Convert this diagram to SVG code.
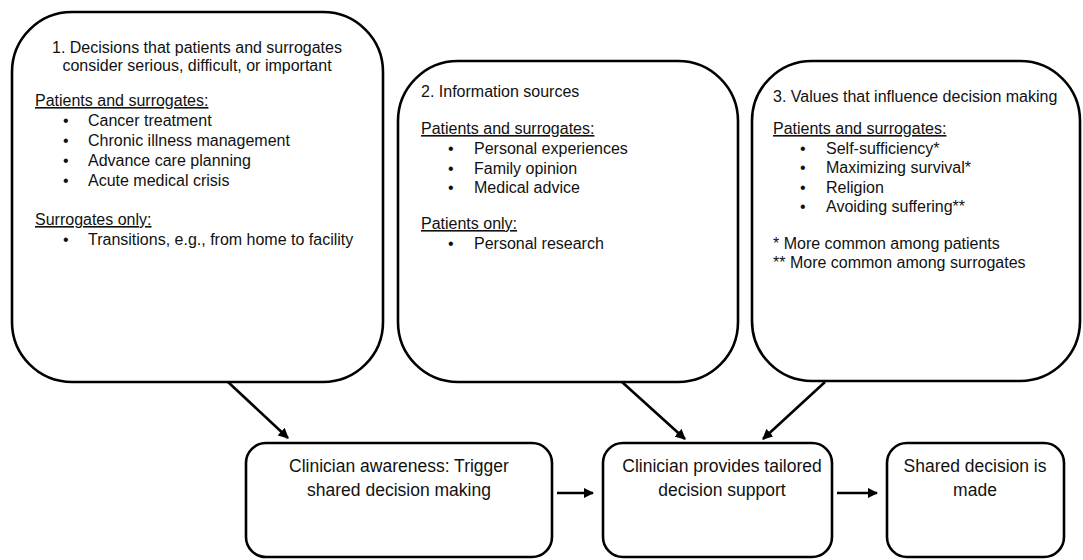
<svg xmlns="http://www.w3.org/2000/svg" width="1083" height="560" viewBox="0 0 1083 560">
<defs>
<marker id="ah" viewBox="0 0 10 10" refX="9" refY="5" markerWidth="4" markerHeight="4" orient="auto" markerUnits="strokeWidth">
<path d="M0,0 L10,5 L0,10 Z" fill="#000"/>
</marker>
<style>
.box{fill:#fff;stroke:#000;stroke-width:2.6}
.t{font-family:"Liberation Sans",Arial,sans-serif;font-size:16px;fill:#111}
.b{font-family:"Liberation Sans",Arial,sans-serif;font-size:17.5px;fill:#111;text-anchor:middle}
.u{text-decoration:underline}
.c{text-anchor:middle}
.con{stroke:#000;stroke-width:2.6;fill:none;marker-end:url(#ah)}
</style>
</defs>
<rect width="1083" height="560" fill="#fff"/>
<g id="node1">
<rect class="box" x="12" y="12" width="371" height="370" rx="60" ry="60"/>
<text class="t c" x="197" y="53">1. Decisions that patients and surrogates</text>
<text class="t c" x="197" y="71">consider serious, difficult, or important</text>
<text class="t u" x="35" y="106">Patients and surrogates:</text>
<text class="t" x="63" y="126">•</text><text class="t" x="88" y="126">Cancer treatment</text>
<text class="t" x="63" y="146">•</text><text class="t" x="88" y="146">Chronic illness management</text>
<text class="t" x="63" y="166">•</text><text class="t" x="88" y="166">Advance care planning</text>
<text class="t" x="63" y="186">•</text><text class="t" x="88" y="186">Acute medical crisis</text>
<text class="t u" x="35" y="225">Surrogates only:</text>
<text class="t" x="63" y="245">•</text><text class="t" x="88" y="245">Transitions, e.g., from home to facility</text>
</g>
<g id="node2">
<rect class="box" x="398" y="61" width="340" height="321" rx="60" ry="60"/>
<text class="t" x="421" y="97">2. Information sources</text>
<text class="t u" x="421" y="134">Patients and surrogates:</text>
<text class="t" x="448" y="154">•</text><text class="t" x="474" y="154">Personal experiences</text>
<text class="t" x="448" y="174">•</text><text class="t" x="474" y="174">Family opinion</text>
<text class="t" x="448" y="193">•</text><text class="t" x="474" y="193">Medical advice</text>
<text class="t u" x="421" y="229">Patients only:</text>
<text class="t" x="448" y="249">•</text><text class="t" x="474" y="249">Personal research</text>
</g>
<g id="node3">
<rect class="box" x="752" y="61" width="328" height="320" rx="60" ry="60"/>
<text class="t" x="773" y="102">3. Values that influence decision making</text>
<text class="t u" x="773" y="134">Patients and surrogates:</text>
<text class="t" x="800" y="154">•</text><text class="t" x="826" y="154">Self-sufficiency*</text>
<text class="t" x="800" y="173">•</text><text class="t" x="826" y="173">Maximizing survival*</text>
<text class="t" x="800" y="193">•</text><text class="t" x="826" y="193">Religion</text>
<text class="t" x="800" y="212">•</text><text class="t" x="826" y="212">Avoiding suffering**</text>
<text class="t" x="773" y="249">* More common among patients</text>
<text class="t" x="773" y="268">** More common among surrogates</text>
</g>
<g id="nodeA">
<rect class="box" x="246" y="443" width="306" height="114" rx="20" ry="20"/>
<text class="b" x="399" y="472">Clinician awareness: Trigger</text>
<text class="b" x="399" y="496">shared decision making</text>
</g>
<g id="nodeB">
<rect class="box" x="603" y="443" width="229" height="114" rx="20" ry="20"/>
<text class="b" x="722" y="472">Clinician provides tailored</text>
<text class="b" x="722" y="496">decision support</text>
</g>
<g id="nodeC">
<rect class="box" x="887" y="443" width="177" height="114" rx="20" ry="20"/>
<text class="b" x="975" y="472">Shared decision is</text>
<text class="b" x="975" y="496">made</text>
</g>
<g id="connectors">
<line class="con" x1="228" y1="382" x2="288" y2="438"/>
<line class="con" x1="622" y1="382" x2="685" y2="439"/>
<line class="con" x1="825" y1="382" x2="763" y2="439"/>
<line class="con" x1="557" y1="493" x2="593" y2="493"/>
<line class="con" x1="837" y1="493" x2="877" y2="493"/>
</g>
</svg>
